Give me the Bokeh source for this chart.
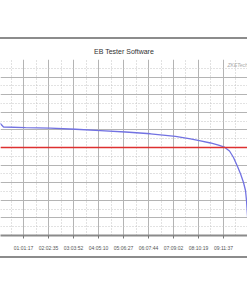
from bokeh.plotting import figure
from bokeh.embed import file_html
from bokeh.resources import INLINE
from bokeh.layouts import column
from bokeh.models import FixedTicker, Range1d, Label, Span, Div

# ---- data ----
time_s = [0, 150, 294, 736, 3972, 7649, 11327, 15004, 18682, 22359, 26037,
          28243, 29714, 31185, 32362, 33245, 33980, 34569, 35157, 35598,
          36040, 36334, 36481, 36628, 36775]
voltage = [3.62, 3.60, 3.587, 3.541, 3.531, 3.524, 3.509, 3.491, 3.470, 3.445, 3.409,
           3.374, 3.345, 3.314, 3.285, 3.254, 3.200, 3.108, 2.980, 2.876,
           2.753, 2.639, 2.497, 2.284, 2.043]
cutoff_v = 3.25
tick_step = 3677.5
tick_labels = ["00:00:00", "01:01:17", "02:02:35", "03:03:52", "04:05:10",
               "05:06:27", "06:07:44", "07:09:02", "08:10:19", "09:11:37", "10:12:55"]
y_ticks = [2.0, 2.25, 2.5, 2.75, 3.0, 3.25, 3.5, 3.75, 4.0, 4.25, 4.5]
title_text = "EB Tester Software"
watermark = "ZKETech"

x_major = [i * tick_step for i in range(len(tick_labels))]
x_minor = [(i + 0.5) * tick_step for i in range(len(tick_labels) - 1)]
y_minor = [(a + b) / 2 for a, b in zip(y_ticks[:-1], y_ticks[1:])]

p = figure(width=247, height=217, output_backend="svg", toolbar_location=None,
           x_range=Range1d(294, 36628), y_range=Range1d(2.0, 4.5),
           min_border_left=0, min_border_right=0, min_border_top=20,
           min_border_bottom=21)
p.background_fill_color = "white"
p.border_fill_color = "white"
p.outline_line_color = None

p.title.text = title_text
p.title.align = "center"
p.title.text_font = "Liberation Sans"
p.title.text_font_size = "7px"
p.title.text_font_style = "normal"
p.title.text_color = "#333333"
p.title.standoff = 10

p.yaxis.visible = False

p.xaxis.ticker = FixedTicker(ticks=x_major, minor_ticks=x_minor)
p.xaxis.major_label_overrides = {x: l for x, l in zip(x_major, tick_labels)}
p.xaxis.major_label_text_font = "Liberation Sans"
p.xaxis.major_label_text_font_size = "5px"
p.xaxis.major_label_text_color = "#555555"
p.xaxis.major_label_standoff = 5
p.xaxis.axis_line_color = "#8a8a8a"
p.xaxis.axis_line_width = 2
p.xaxis.major_tick_line_color = "#777777"
p.xaxis.major_tick_in = 0
p.xaxis.major_tick_out = 3
p.xaxis.minor_tick_line_color = None

p.yaxis.ticker = FixedTicker(ticks=y_ticks, minor_ticks=y_minor)

for g in (p.xgrid, p.ygrid):
    g.grid_line_color = "#b4b4b4"
    g.grid_line_width = 1
    g.minor_grid_line_color = "#c4c4c4"
    g.minor_grid_line_dash = "1 2"
    g.minor_grid_line_width = 1

p.line(time_s, voltage, line_color="#7272e2", line_width=1.3)
p.add_layout(Span(location=cutoff_v, dimension="width", line_color="#dd3030", line_width=1.4))

p.add_layout(Label(x=33686, y=4.415, text=watermark, text_font="Liberation Sans",
                   text_font_size="5px", text_color="#aaaaaa", text_font_style="italic",
                   text_baseline="middle"))

# window frame lines above and below the chart
top = Div(text="", width=247, height=39, margin=0,
          styles={"border-bottom": "2px solid #8c8c8c", "box-sizing": "border-box"})
bottom = Div(text="", width=247, height=40, margin=0,
             styles={"border-top": "2px solid #8c8c8c", "box-sizing": "border-box"})
p.margin = 0

layout = column(top, p, bottom, spacing=0, margin=0)
open("out.html", "w").write(file_html(layout, INLINE))
